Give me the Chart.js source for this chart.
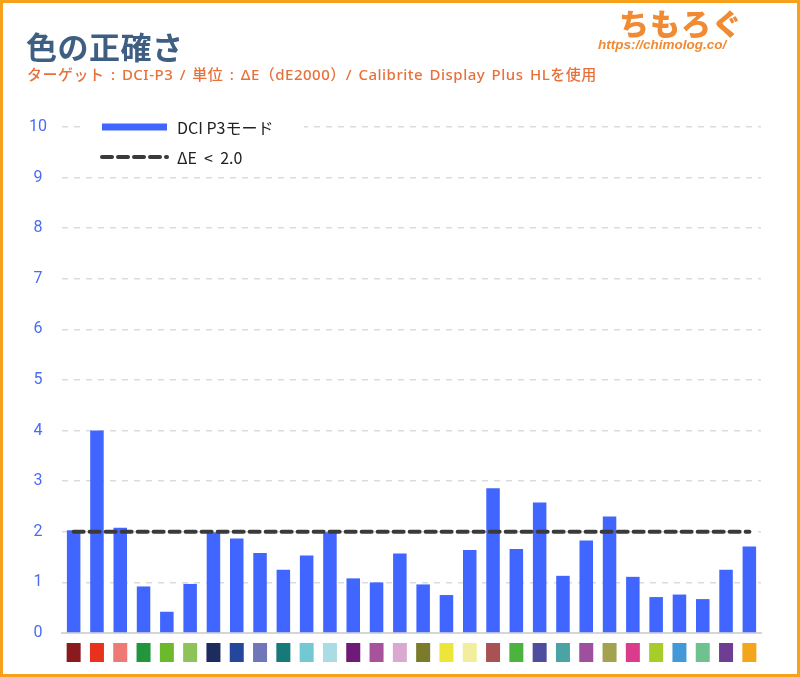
<!DOCTYPE html>
<html>
<head>
<meta charset="utf-8">
<script src="https://cdn.jsdelivr.net/npm/chart.js@4/dist/chart.umd.min.js"></script>
<style>
  body { margin: 0; background: #fff; }
  #wrap { position: relative; width: 800px; height: 677px; overflow: hidden; }
  #frame { position: absolute; left: 0; top: 0; width: 794px; height: 671px; border: 3px solid #f7a11a; pointer-events: none; }
  .title { position: absolute; left: 26px; top: 23px; font: bold 31px "Noto Sans CJK JP", sans-serif; color: #3f5f82; letter-spacing: 0.5px; }
  .sub { position: absolute; left: 27px; top: 63px; font: 500 15px "Noto Sans", "Noto Sans CJK JP", sans-serif; color: #e8703a; white-space: nowrap; word-spacing: 2px; letter-spacing: 0.5px; }
  .logo { position: absolute; left: 619px; top: 0px; font: 900 30px "Noto Sans CJK JP", sans-serif; color: #f08a33; letter-spacing: 1px; }
  .url { position: absolute; left: 598px; top: 37px; font: italic bold 13.5px "Liberation Sans", sans-serif; color: #f08a33; }
  canvas { position: absolute; left: 0; top: 0; }
</style>
</head>
<body>
<div id="wrap">
  <canvas id="myChart" width="800" height="677"></canvas>
  <div class="title">色の正確さ</div>
  <div class="sub">ターゲット : DCI-P3 / 単位 : ΔE（dE2000）/ Calibrite Display Plus HLを使用</div>
  <div class="logo">ちもろぐ</div>
  <div class="url">https://chimolog.co/</div>
  <div id="frame"></div>
</div>
<script>
"use strict";

const patchNames = [
  "1", "2", "3", "4", "5", "6", "7", "8", "9", "10",
  "11", "12", "13", "14", "15", "16", "17", "18", "19", "20",
  "21", "22", "23", "24", "25", "26", "27", "28", "29", "30",
];
const deltaE = [
  2.03, 4.0, 2.08, 0.92, 0.42, 0.97, 1.99, 1.87, 1.58, 1.25,
  1.53, 1.99, 1.08, 1.0, 1.57, 0.96, 0.75, 1.64, 2.86, 1.66,
  2.58, 1.13, 1.83, 2.3, 1.11, 0.71, 0.76, 0.67, 1.25, 1.71,
];
const threshold = [
  2, 2, 2, 2, 2, 2, 2, 2, 2, 2,
  2, 2, 2, 2, 2, 2, 2, 2, 2, 2,
  2, 2, 2, 2, 2, 2, 2, 2, 2, 2,
];
const patchColors = [
  "#8b1a1f", "#e8321e", "#ee7a76", "#21963c", "#6db92e", "#8dc45a",
  "#1e2b5e", "#24479c", "#7076b8", "#157a78", "#73c8d3", "#aadde3",
  "#6e1a78", "#a6539b", "#d9a9d0", "#7a7b2b", "#ede63a", "#f2ee9e",
  "#a85253", "#4db340", "#4f4e9e", "#4ca3a3", "#9e509e", "#a3a24f",
  "#db3b8b", "#a8cc2a", "#4399d8", "#6fc28f", "#6e3e92", "#f5a519",
];
const yTicks = [0, 1, 2, 3, 4, 5, 6, 7, 8, 9, 10];

// colour patches under each bar, placed from the x scale
const patchPlugin = {
  id: "patches",
  afterDraw(chart) {
    const ctx = chart.ctx;
    const x = chart.scales.x;
    ctx.save();
    patchColors.forEach((c, i) => {
      const px = x.getPixelForValue(i);
      ctx.fillStyle = c;
      ctx.fillRect(px - 7, 643, 14, 19);
    });
    ctx.restore();
  },
};

// legend drawn in a box over the top-left of the plot
const legendPlugin = {
  id: "boxLegend",
  afterDraw(chart) {
    const ctx = chart.ctx;
    ctx.save();
    ctx.fillStyle = "#fff";
    ctx.fillRect(82, 112, 222, 60);
    ctx.font = '16px "Noto Sans CJK JP", sans-serif';
    ctx.textBaseline = "middle";
    chart.data.datasets.forEach((ds, i) => {
      const y = 127 + i * 30;
      ctx.beginPath();
      ctx.strokeStyle = ds.legendColor;
      ctx.lineWidth = ds.legendWidth;
      ctx.lineCap = ds.borderDash ? "round" : "butt";
      ctx.setLineDash(ds.borderDash || []);
      ctx.moveTo(102, y);
      ctx.lineTo(167, y);
      ctx.stroke();
      ctx.setLineDash([]);
      ctx.fillStyle = "#222";
      ctx.fillText(ds.label, 177, y + 1);
    });
    ctx.restore();
  },
};

new Chart("myChart", {
  data: {
    labels: patchNames,
    datasets: [
      {
        type: "bar",
        label: "DCI P3モード",
        data: deltaE,
        backgroundColor: "#4166ff",
        legendColor: "#4166ff",
        legendWidth: 7,
        categoryPercentage: 1,
        barPercentage: 0.58,
        order: 1,
      },
      {
        type: "line",
        label: "ΔE  <  2.0",
        data: threshold,
        borderColor: "#3a3a3a",
        legendColor: "#3a3a3a",
        legendWidth: 4,
        borderWidth: 4,
        borderDash: [10, 6],
        borderCapStyle: "round",
        pointRadius: 0,
        order: 0,
      },
    ],
  },
  options: {
    responsive: false,
    animation: false,
    layout: { padding: { top: 127, left: 0, right: 39, bottom: 44 } },
    plugins: {
      legend: { display: false },
      tooltip: { enabled: false },
    },
    scales: {
      x: {
        ticks: { display: false },
        grid: { display: false, drawTicks: false },
        border: { color: "#d6d6d6", width: 2 },
      },
      y: {
        min: 0,
        max: 10,
        afterBuildTicks: (s) => { s.ticks = yTicks.map((v) => ({ value: v })); },
        afterFit: (s) => { s.width = 62; },
        ticks: {
          padding: 15,
          crossAlign: "center",
          color: "#4a6cf5",
          font: { family: "Roboto", size: 16 },
        },
        grid: { color: "#dcdcdc", lineWidth: 1.5, drawTicks: false },
        border: { display: false, dash: [6, 6] },
      },
    },
  },
  plugins: [patchPlugin, legendPlugin],
});
</script>
</body>
</html>
